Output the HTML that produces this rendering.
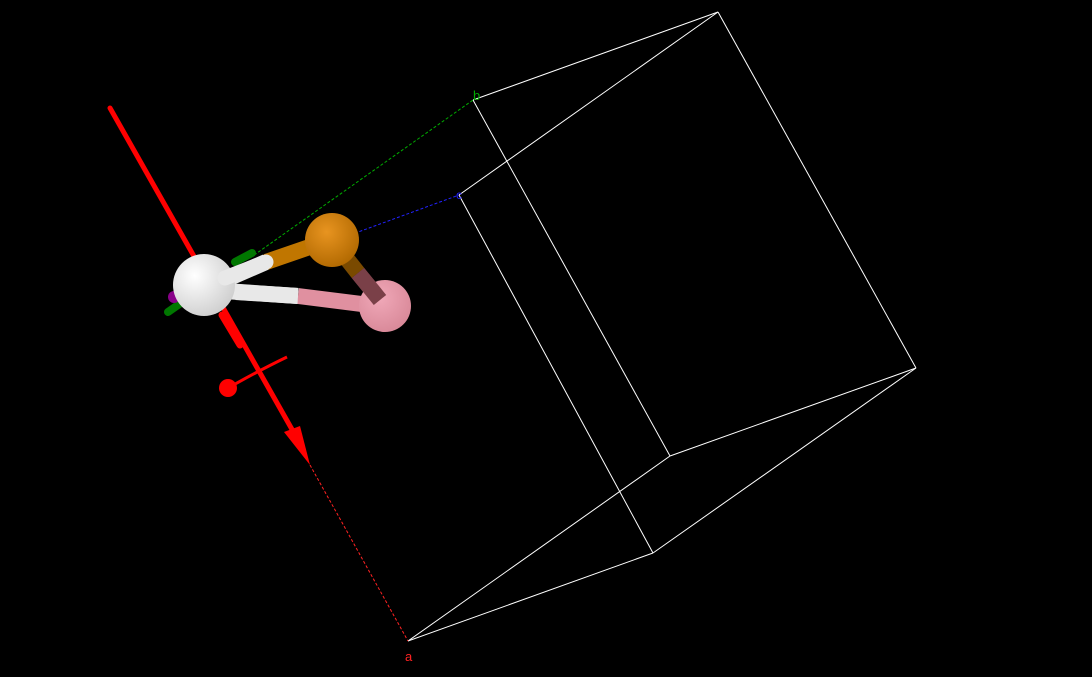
<!DOCTYPE html>
<html><head><meta charset="utf-8"><style>html,body{margin:0;padding:0;background:#000;width:1092px;height:677px;overflow:hidden}</style></head>
<body>
<svg width="1092" height="677" viewBox="0 0 1092 677" xmlns="http://www.w3.org/2000/svg">
<defs>
<radialGradient id="gw" cx="0.35" cy="0.35" r="0.7"><stop offset="0" stop-color="#fff"/><stop offset="1" stop-color="#cfcfcf"/></radialGradient>
<radialGradient id="go" cx="0.4" cy="0.35" r="0.7"><stop offset="0" stop-color="#e89420"/><stop offset="1" stop-color="#b06800"/></radialGradient>
<radialGradient id="gp" cx="0.4" cy="0.35" r="0.7"><stop offset="0" stop-color="#f0a8b8"/><stop offset="1" stop-color="#d88898"/></radialGradient>
</defs>
<g stroke="#fff" stroke-width="1" fill="none">
<line x1="473" y1="100" x2="718" y2="12"/>
<line x1="459" y1="195" x2="718" y2="12"/>
<line x1="718" y1="12" x2="916" y2="368"/>
<line x1="473" y1="100" x2="670" y2="456"/>
<line x1="670" y1="456" x2="916" y2="368"/>
<line x1="459" y1="195" x2="653" y2="553"/>
<line x1="653" y1="553" x2="916" y2="368"/>
<line x1="408" y1="641" x2="670" y2="456"/>
<line x1="408" y1="641" x2="653" y2="553"/>
</g>
<line x1="250" y1="258" x2="473" y2="100" stroke="#0a0" stroke-dasharray="3,2"/>
<line x1="350" y1="235" x2="459" y2="195" stroke="#22f" stroke-dasharray="3,2"/>
<line x1="310" y1="465" x2="408" y2="641" stroke="#f22" stroke-dasharray="3,2"/>
<text x="473" y="100" fill="#0a0" font-family="Liberation Sans, sans-serif" font-size="13">b</text>
<text x="456" y="199" fill="#22f" font-family="Liberation Sans, sans-serif" font-size="12">c</text>
<text x="405" y="661" fill="#f22" font-family="Liberation Sans, sans-serif" font-size="13">a</text>
<line x1="110" y1="108" x2="298" y2="440" stroke="#f00" stroke-width="5" stroke-linecap="round"/>
<polygon points="284,432 300,426 310,465" fill="#f00"/>
<path d="M228,388 Q260,370 287,357" stroke="#f00" stroke-width="3" fill="none"/>
<circle cx="228" cy="388" r="9" fill="#f00"/>
<line x1="235" y1="262" x2="252" y2="253" stroke="#070" stroke-width="8" stroke-linecap="round"/>
<line x1="168" y1="312" x2="188" y2="298" stroke="#070" stroke-width="8" stroke-linecap="round"/>
<circle cx="174" cy="297" r="6" fill="#808"/>
<line x1="210" y1="290" x2="298" y2="296" stroke="#e8e8e8" stroke-width="16"/>
<line x1="298" y1="296" x2="385" y2="307" stroke="#e090a0" stroke-width="16"/>
<line x1="220" y1="282" x2="266" y2="262" stroke="#e8e8e8" stroke-width="16"/>
<line x1="266" y1="262" x2="330" y2="240" stroke="#c07600" stroke-width="16"/>
<line x1="332" y1="240" x2="358" y2="273" stroke="#7a4a00" stroke-width="16"/>
<line x1="358" y1="273" x2="380" y2="300" stroke="#7a4048" stroke-width="16"/>
<circle cx="204" cy="285" r="31" fill="url(#gw)"/>
<line x1="222" y1="315" x2="240" y2="345" stroke="#f00" stroke-width="7" stroke-linecap="round"/>
<line x1="236" y1="292" x2="298" y2="296" stroke="#e8e8e8" stroke-width="16"/>
<line x1="225" y1="278" x2="266" y2="262" stroke="#e8e8e8" stroke-width="15" stroke-linecap="round"/>
<circle cx="332" cy="240" r="27" fill="url(#go)"/>
<circle cx="385" cy="306" r="26" fill="url(#gp)"/>
<line x1="358" y1="273" x2="380" y2="300" stroke="#7a4048" stroke-width="16"/>
</svg>
</body></html>
